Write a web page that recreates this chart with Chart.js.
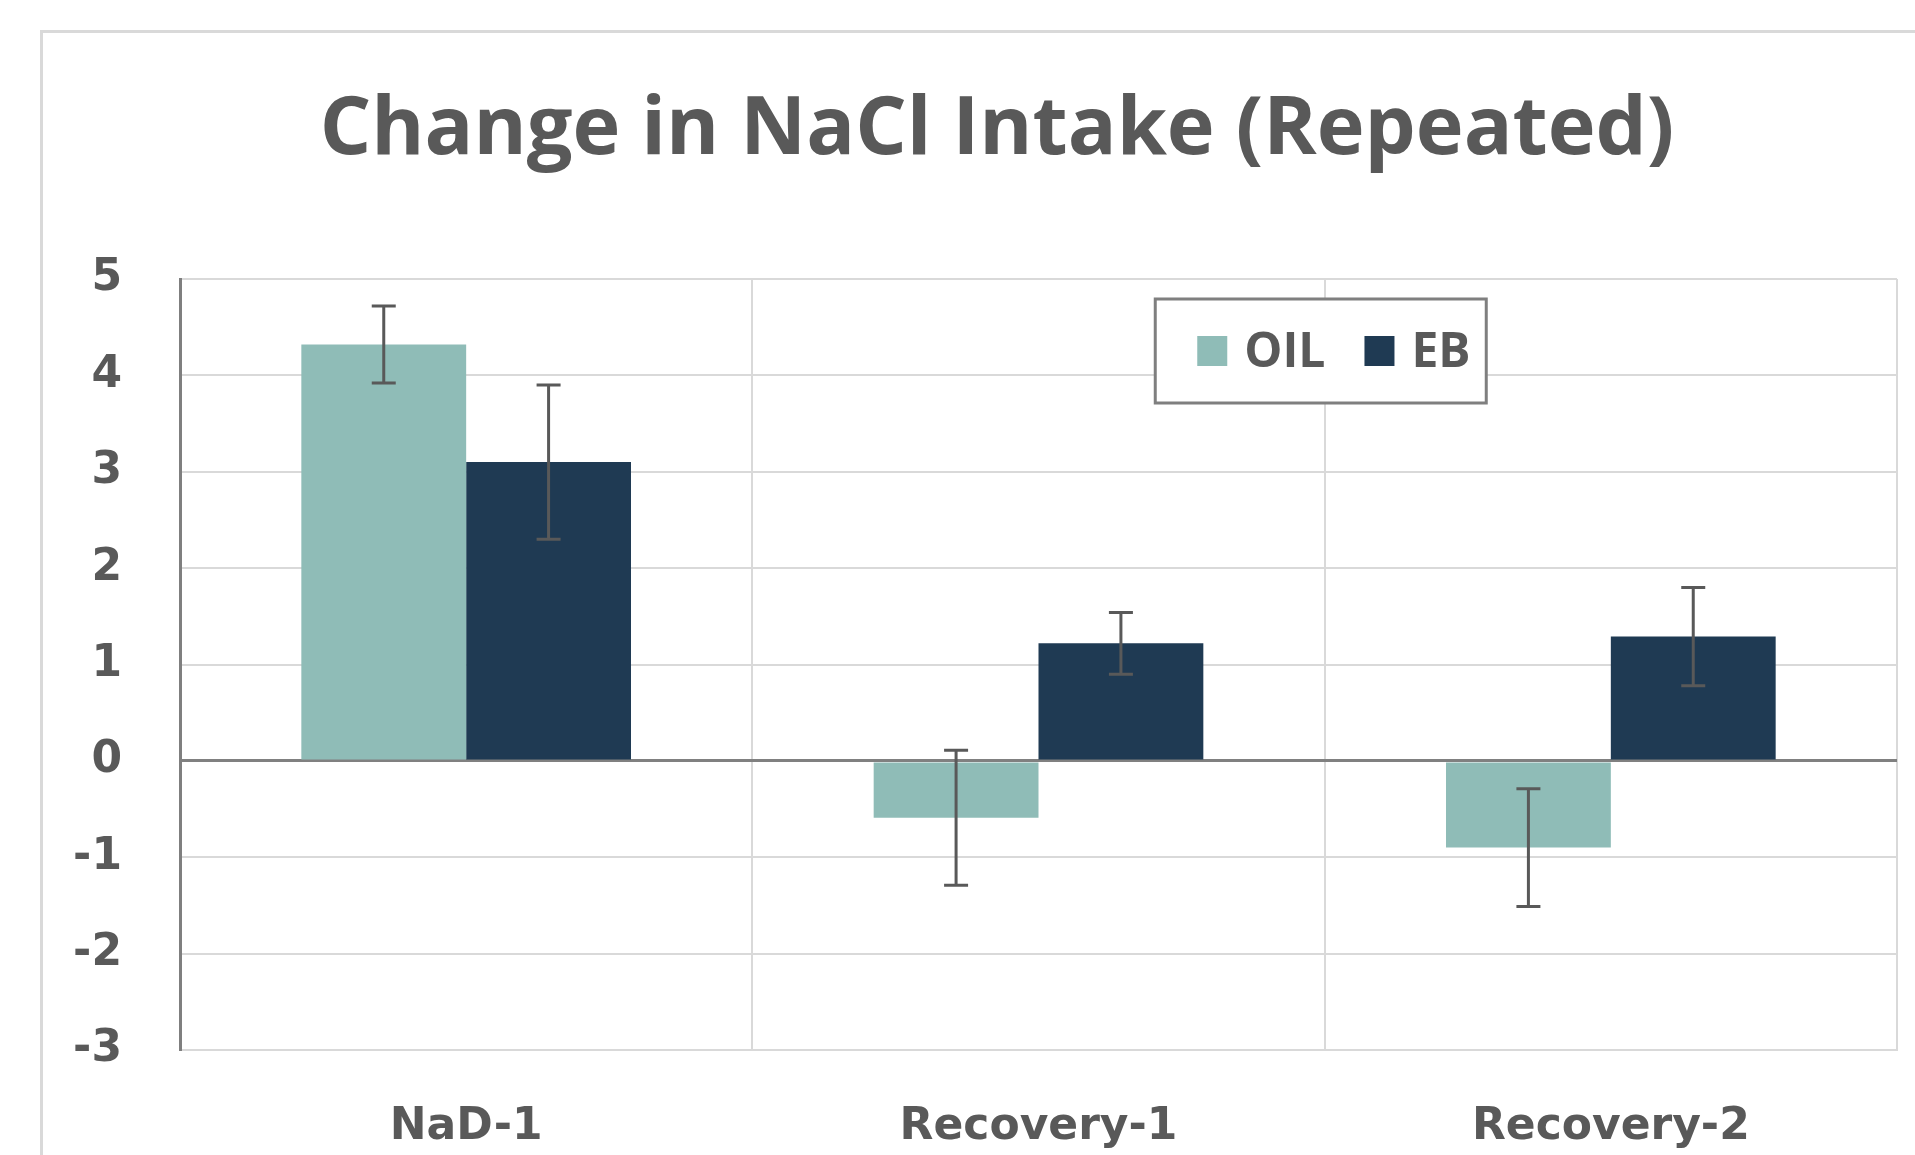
<!DOCTYPE html>
<html>
<head>
<meta charset="utf-8">
<script src="https://cdn.jsdelivr.net/npm/chart.js@4"></script>
<style>
  html, body { margin: 0; padding: 0; background: #fff; overflow: hidden; }
  .frame {
    position: absolute; left: 40px; top: 30px;
    width: 2000px; height: 1300px;
    border-left: 3px solid #d9d9d9; border-top: 3px solid #d9d9d9;
  }
  .wrap { position: absolute; left: 0; top: 0; width: 1915px; height: 1155px; }
</style>
</head>
<body>
<div class="frame"></div>
<div class="wrap"><canvas id="c"></canvas></div>
<script>
const chartTitle = "Change in NaCl Intake (Repeated)";
const categories = ["NaD-1", "Recovery-1", "Recovery-2"];
const seriesNames = ["OIL", "EB"];
const oilValues = [4.32, -0.59, -0.90];
const oilErrors = [0.40, 0.70, 0.61];
const ebValues = [3.10, 1.22, 1.29];
const ebErrors = [0.80, 0.32, 0.51];
const yTicks = [5, 4, 3, 2, 1, 0, -1, -2, -3];

const textColor = "#595959";

// title centred over the whole frame, not the plot
const frameTitle = {
  id: "frameTitle",
  afterDraw(chart) {
    const ctx = chart.ctx;
    ctx.save();
    ctx.font = "bold 81px 'Open Sans'";
    ctx.fillStyle = textColor;
    ctx.textAlign = "center";
    ctx.textBaseline = "middle";
    ctx.fillText(chartTitle, 997, 131);
    ctx.restore();
  }
};

// error bars drawn on top of the bars
const errorBars = {
  id: "errorBars",
  afterDatasetsDraw(chart) {
    const ctx = chart.ctx;
    const y = chart.scales.y;
    ctx.save();
    ctx.strokeStyle = "#595959";
    ctx.lineWidth = 3;
    chart.data.datasets.forEach((ds, i) => {
      const meta = chart.getDatasetMeta(i);
      meta.data.forEach((bar, j) => {
        const v = ds.data[j], e = ds.errors[j];
        const top = y.getPixelForValue(v + e);
        const bot = y.getPixelForValue(v - e);
        ctx.beginPath();
        ctx.moveTo(bar.x, top); ctx.lineTo(bar.x, bot);
        ctx.moveTo(bar.x - 12, top); ctx.lineTo(bar.x + 12, top);
        ctx.moveTo(bar.x - 12, bot); ctx.lineTo(bar.x + 12, bot);
        ctx.stroke();
      });
    });
    ctx.restore();
  }
};

// boxed legend sitting inside the plot area
const boxLegend = {
  id: "boxLegend",
  afterDraw(chart) {
    const ctx = chart.ctx;
    const ca = chart.chartArea;
    const bx = ca.left + 0.568 * ca.width;
    const by = ca.top + 20;
    const bw = 331, bh = 104;
    ctx.save();
    ctx.fillStyle = "#fff";
    ctx.fillRect(bx, by, bw, bh);
    ctx.strokeStyle = "#7f7f7f";
    ctx.lineWidth = 3;
    ctx.strokeRect(bx, by, bw, bh);
    ctx.font = "bold 48px 'Open Sans'";
    ctx.textBaseline = "middle";
    const sq = 30, gap = 17, between = 39;
    let x = bx + 42;
    const cy = by + bh / 2;
    chart.data.datasets.forEach(ds => {
      ctx.fillStyle = ds.backgroundColor;
      ctx.fillRect(x, cy - sq / 2, sq, sq);
      x += sq + gap;
      ctx.fillStyle = textColor;
      ctx.fillText(ds.label, x, cy + 2);
      x += ctx.measureText(ds.label).width + between;
    });
    ctx.restore();
  }
};

new Chart(document.getElementById("c"), {
  type: "bar",
  data: {
    labels: categories,
    datasets: [
      { label: seriesNames[0], data: oilValues, errors: oilErrors, backgroundColor: "#8fbcb7",
        barPercentage: 1.0, categoryPercentage: 0.576 },
      { label: seriesNames[1], data: ebValues, errors: ebErrors, backgroundColor: "#1f3a53",
        barPercentage: 1.0, categoryPercentage: 0.576 }
    ]
  },
  options: {
    responsive: true,
    maintainAspectRatio: false,
    animation: false,
    layout: { padding: { left: 0, right: 18, top: 279, bottom: 0 } },
    plugins: {
      legend: { display: false },
      tooltip: { enabled: false },
      title: { display: false }
    },
    scales: {
      x: {
        grid: { display: true, color: "#d9d9d9", lineWidth: 2, drawTicks: false, offset: true },
        border: { display: true, color: "#d9d9d9", width: 2 },
        ticks: { color: textColor, padding: 51, font: { family: "'DejaVu Sans'", size: 44, weight: "bold" } },
        afterFit(s) { s.height = 105; }
      },
      y: {
        min: -3, max: 5,
        afterBuildTicks(s) { s.ticks = yTicks.map(v => ({ value: v })); },
        grid: {
          drawTicks: false,
          color: c => c.tick && c.tick.value === 0 ? "#808080" : "#d9d9d9",
          lineWidth: c => c.tick && c.tick.value === 0 ? 3 : 2
        },
        border: { display: true, color: "#7f7f7f", width: 3 },
        ticks: { color: textColor, padding: 58, font: { family: "'DejaVu Sans'", size: 44, weight: "bold" } },
        afterFit(s) { s.width = 180; }
      }
    }
  },
  plugins: [errorBars, boxLegend, frameTitle]
});
</script>
</body>
</html>
